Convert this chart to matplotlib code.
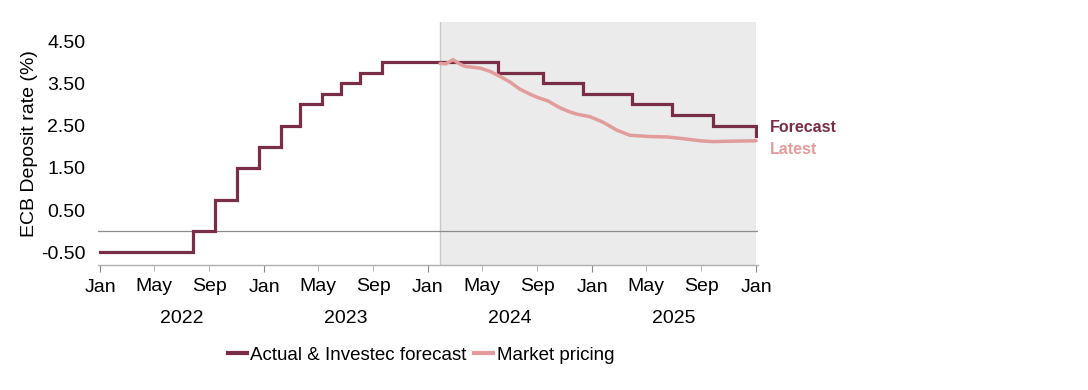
import matplotlib
matplotlib.use("Agg")
import matplotlib.pyplot as plt
import matplotlib.dates as mdates
import numpy as np
import pandas as pd
from matplotlib.lines import Line2D

plt.rcParams['font.family'] = ['Liberation Sans', 'DejaVu Sans']

# Actual & Investec forecast (step changes)
policy_dates = ["2022-01-01", "2022-07-27", "2022-09-14", "2022-11-02", "2022-12-21",
                "2023-02-08", "2023-03-22", "2023-05-10", "2023-06-21", "2023-08-02",
                "2023-09-20", "2024-06-06", "2024-09-13", "2024-12-12", "2025-03-30",
                "2025-06-28", "2025-09-28", "2026-01-01"]
policy_rate = [-0.50, 0.00, 0.75, 1.50, 2.00, 2.50, 3.00, 3.25, 3.50, 3.75,
               4.00, 3.75, 3.50, 3.25, 3.00, 2.75, 2.50, 2.25]

# Market pricing
market_dates = ["2024-01-28", "2024-02-10", "2024-02-26", "2024-03-13", "2024-03-24",
                "2024-04-26", "2024-05-19", "2024-06-10", "2024-07-02", "2024-07-24",
                "2024-08-16", "2024-08-31", "2024-09-25", "2024-10-21", "2024-11-13",
                "2024-11-28", "2024-12-27", "2025-01-25", "2025-02-25", "2025-03-26",
                "2025-05-10", "2025-06-17", "2025-07-22", "2025-08-29", "2025-09-27",
                "2025-11-04", "2026-01-01"]
market_rate = [3.97, 3.96, 4.06, 3.95, 3.90, 3.86, 3.78, 3.66, 3.53, 3.36,
               3.24, 3.17, 3.08, 2.92, 2.82, 2.77, 2.71, 2.58, 2.39, 2.27,
               2.24, 2.23, 2.19, 2.14, 2.12, 2.13, 2.14]

forecast_start = "2024-01-28"
forecast_end = "2026-01-01"
y_ticks = [-0.5, 0.5, 1.5, 2.5, 3.5, 4.5]
years = [2022, 2023, 2024, 2025]

dark = "#7a2e45"
pink = "#e39c9c"
fs = 14

fig = plt.figure(figsize=(10.88, 3.90), dpi=100)
ax = fig.add_axes([0.090, 0.3205, 0.607, 0.623])

pdates = pd.to_datetime(policy_dates)
mdt = pd.to_datetime(market_dates)

ax.axvspan(pd.Timestamp(forecast_start), pd.Timestamp(forecast_end), color="#ebebeb", zorder=0, lw=0)
ax.axvline(pd.Timestamp(forecast_start), color="#c8c8c8", lw=1.0, zorder=1)
ax.axhline(0, color="#8c8c8c", lw=0.9, zorder=1)

ax.plot(pdates, policy_rate, drawstyle="steps-post", color=dark, lw=2.3, zorder=3,
        label="Actual & Investec forecast", solid_joinstyle="miter")
ax.plot(mdt, market_rate, color=pink, lw=2.5, zorder=4, label="Market pricing",
        solid_capstyle="round")

ax.set_xlim(pd.Timestamp("2021-12-27"), pd.Timestamp("2026-01-06"))
ax.set_ylim(-0.8, 4.95)
ax.set_yticks(y_ticks)
ax.set_yticklabels([f"{v:.2f}" for v in y_ticks])
ax.tick_params(axis="y", length=0, labelsize=fs, pad=9)

ax.xaxis.set_major_locator(mdates.MonthLocator(bymonth=[1]))
ax.xaxis.set_minor_locator(mdates.MonthLocator(bymonth=[5, 9]))
ax.xaxis.set_major_formatter(mdates.DateFormatter("%b"))
ax.xaxis.set_minor_formatter(mdates.DateFormatter("%b"))
ax.tick_params(axis="x", which="major", length=5, color="#888888", labelsize=fs, pad=5)
ax.tick_params(axis="x", which="minor", length=4, color="#aaaaaa", labelsize=fs, pad=5)

for s in ["top", "right", "left"]:
    ax.spines[s].set_visible(False)
ax.spines["bottom"].set_color("#b0b0b0")
ax.spines["bottom"].set_linewidth(1.0)

for yr in years:
    ax.text(pd.Timestamp(f"{yr}-07-02"), -(319 - 265) / 243, str(yr), transform=ax.get_xaxis_transform(),
            ha="center", va="center", fontsize=fs)

ax.set_ylabel("ECB Deposit rate (%)", fontsize=fs, labelpad=2)

fig.text(770 / 1088, 1 - 128 / 390, "Forecast", color=dark, fontsize=11.5, fontweight="bold",
         ha="left", va="center")
fig.text(770 / 1088, 1 - 149 / 390, "Latest", color=pink, fontsize=11.5, fontweight="bold",
         ha="left", va="center")

handles = [Line2D([], [], color=dark, lw=3), Line2D([], [], color=pink, lw=3)]
fig.legend(handles, ["Actual & Investec forecast", "Market pricing"],
           loc="center", bbox_to_anchor=(421 / 1088, 1 - 355 / 390), ncol=2, frameon=False,
           fontsize=13.5, handlelength=1.0, handletextpad=0.2, columnspacing=0.4)

fig.savefig("out.png", dpi=100)
